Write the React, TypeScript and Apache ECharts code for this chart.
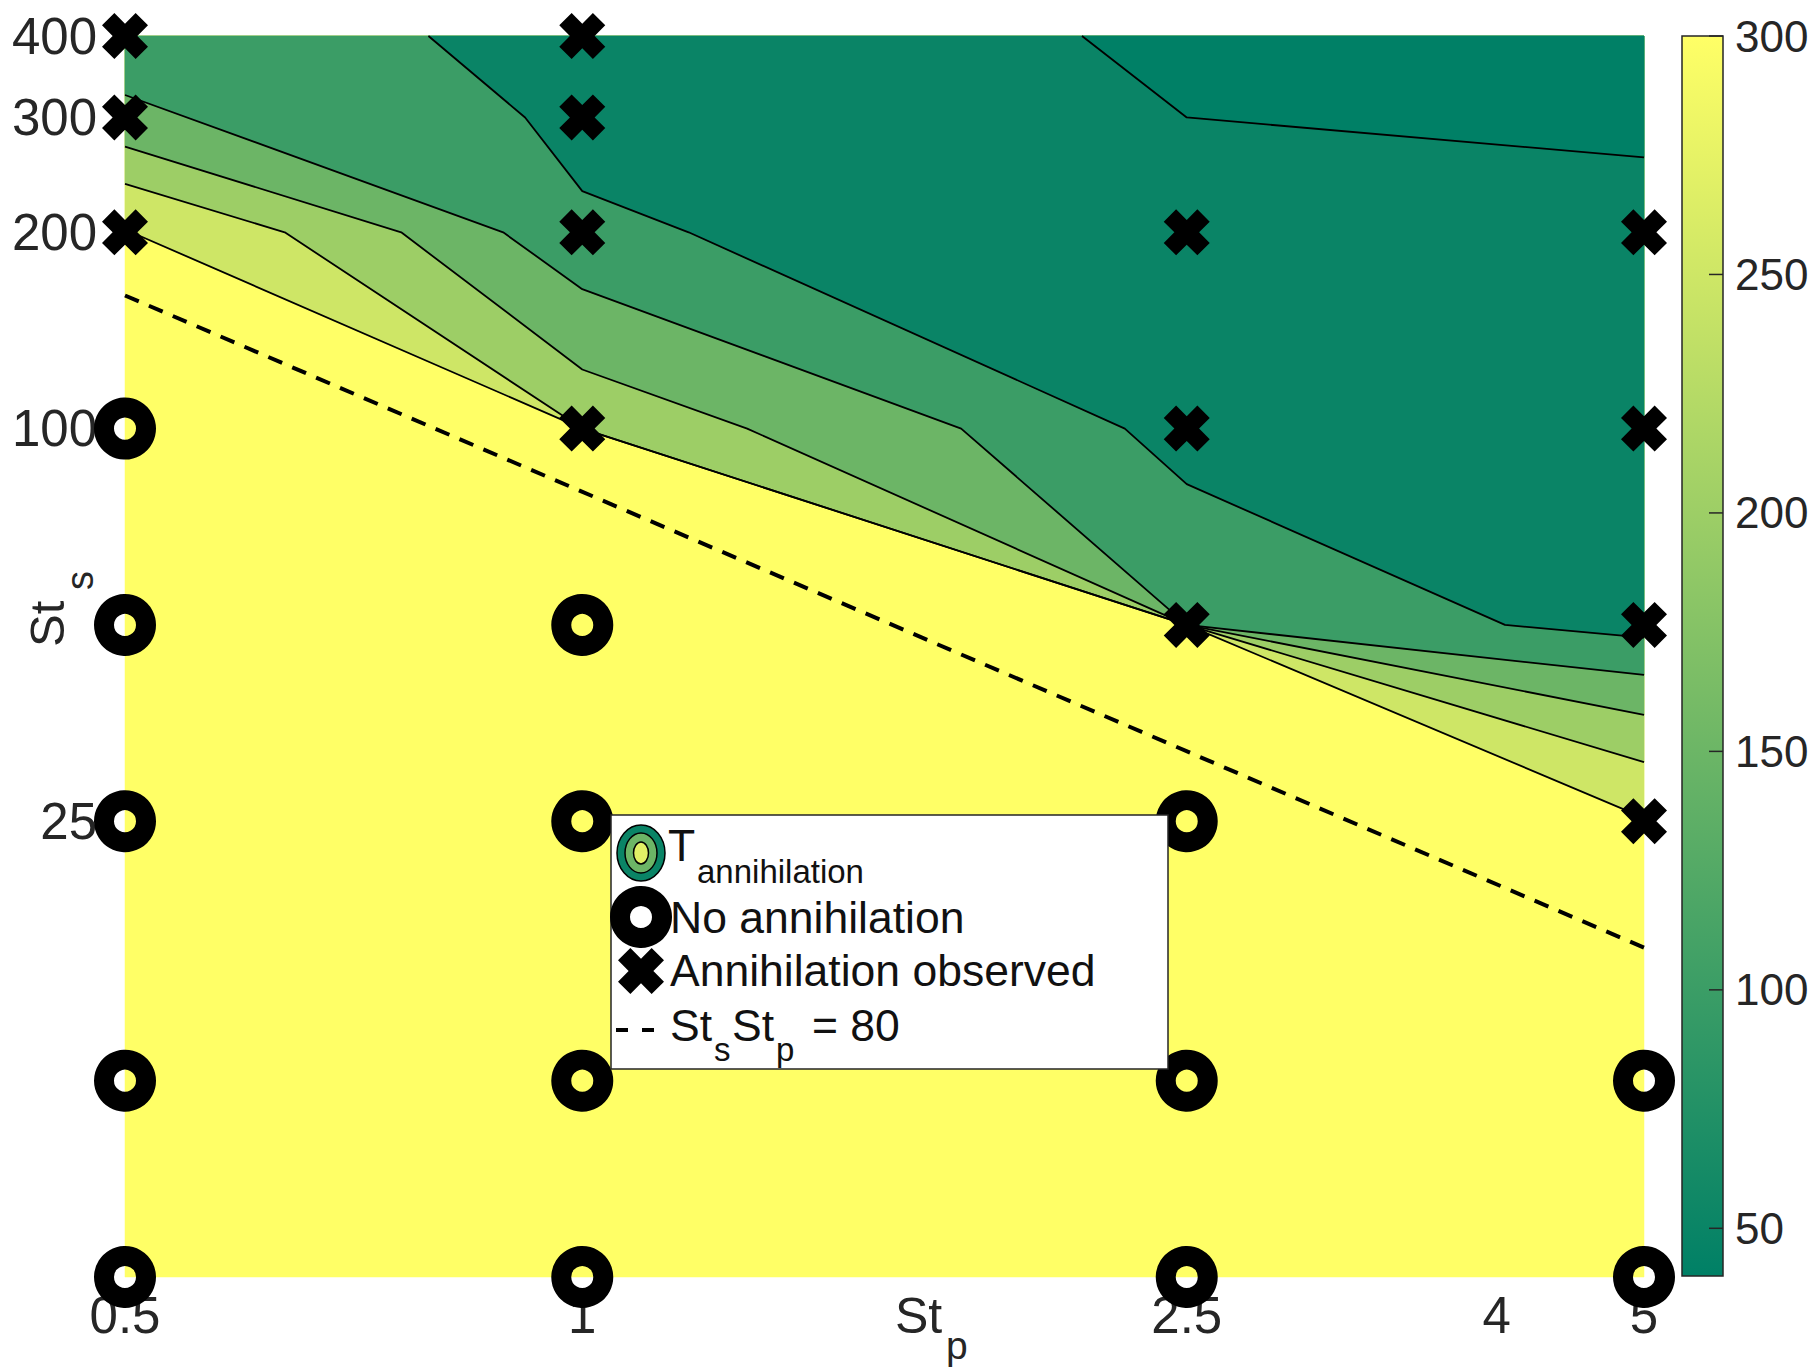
import React, { useEffect, useRef } from "react";
import * as echarts from "echarts";

const FONT = "'Liberation Sans', Arial, Helvetica, sans-serif";
const INK = "#262626";

// Axis ranges and tick positions
const ST_P_RANGE = [0.5, 5];
const ST_S_RANGE = [5, 400];
const ST_P_TICKS = [0.5, 1, 2.5, 4, 5];
const ST_S_TICKS = [25, 100, 200, 300, 400];

// Colour scale of T_annihilation
const T_RANGE = [40, 300];
const T_TICKS = [50, 100, 150, 200, 250, 300];

// Contour lines of T_annihilation, vertices as [St_p, St_s]
const contour50 = [[2.133, 400], [2.5, 300], [5, 260.6]];
const contour100 = [
  [0.792, 400], [0.917, 300], [1, 231.3], [1.175, 200],
  [2.276, 100], [2.5, 82.2], [4.05, 50], [5, 47.8],
];
const contour150 = [[0.5, 324.8], [0.887, 200], [1, 163.6], [1.776, 100], [2.5, 50], [5, 41.9]];
const contour200 = [[0.5, 270.6], [0.76, 200], [1, 123.2], [1.284, 100], [2.5, 50], [5, 36.4]];
const contour250 = [[0.5, 237.3], [0.637, 200], [1, 100], [2.5, 50], [5, 30.8]];
const contour300 = [[0.5, 202], [1, 100], [2.5, 50], [5, 25.3]];

// Simulation outcomes, as [St_p, St_s]
const noAnnihilation = [
  [0.5, 100], [0.5, 50], [0.5, 25], [0.5, 10], [0.5, 5],
  [1, 50], [1, 25], [1, 10], [1, 5],
  [2.5, 25], [2.5, 10], [2.5, 5],
  [5, 10], [5, 5],
];
const annihilationObserved = [
  [0.5, 400], [0.5, 300], [0.5, 200],
  [1, 400], [1, 300], [1, 200], [1, 100],
  [2.5, 200], [2.5, 100], [2.5, 50],
  [5, 200], [5, 100], [5, 50], [5, 25],
];

// Reference curve St_s * St_p = const
const PRODUCT = 80;
const productLineStp = [0.5, 5];

// "summer" colormap: green -> yellow
function summer(v: number): string {
  const t = Math.min(1, Math.max(0, (v - T_RANGE[0]) / (T_RANGE[1] - T_RANGE[0])));
  const r = Math.round(255 * t);
  const g = Math.round(255 * (0.5 + 0.5 * t));
  const b = Math.round(255 * 0.4);
  return `rgb(${r},${g},${b})`;
}

// Heavy "x" marker outline in a 100x100 box
const X_MARK = [
  [73.1, 0], [100, 26.9], [76.9, 50], [100, 73.1], [73.1, 100], [50, 76.9],
  [26.9, 100], [0, 73.1], [23.1, 50], [0, 26.9], [26.9, 0], [50, 23.1],
];
const X_PATH = "path://M" + X_MARK.map((p) => p.join(" ")).join("L") + "Z";
const X_SIZE = 46;

// Region lying above a contour line (lower T), closed along the top-right frame
function regionAbove(line: number[][]): number[][] {
  const pts = line.slice();
  pts.push([ST_P_RANGE[1], ST_S_RANGE[1]]);
  if (line[0][0] <= ST_P_RANGE[0]) pts.push([ST_P_RANGE[0], ST_S_RANGE[1]]);
  return pts;
}

const fillRegions = [
  {
    polygon: [
      [ST_P_RANGE[0], ST_S_RANGE[0]], [ST_P_RANGE[1], ST_S_RANGE[0]],
      [ST_P_RANGE[1], ST_S_RANGE[1]], [ST_P_RANGE[0], ST_S_RANGE[1]],
    ],
    color: summer(300),
  },
  { polygon: regionAbove(contour300), color: summer(250) },
  { polygon: regionAbove(contour250), color: summer(200) },
  { polygon: regionAbove(contour200), color: summer(150) },
  { polygon: regionAbove(contour150), color: summer(100) },
  { polygon: regionAbove(contour100), color: summer(50) },
  { polygon: regionAbove(contour50), color: summer(T_RANGE[0]) },
];

const contourLines = [contour50, contour100, contour150, contour200, contour250, contour300];

const fmt = (v: number) => String(Number(Number(v).toPrecision(6)));

function txt(x: number, y: number, text: string, size: number, extra: any = {}) {
  return {
    type: "text",
    x,
    y,
    z: 60,
    silent: true,
    style: {
      text,
      fontSize: size,
      fontFamily: FONT,
      fill: extra.fill || "#111",
      align: "left",
      verticalAlign: "middle",
      textAlign: "left",
      textVerticalAlign: "middle",
    },
  };
}

function buildLegend() {
  const cx = 641;
  const xPoly = X_MARK.map(([a, b]) => [cx - X_SIZE / 2 + (a * X_SIZE) / 100, 971 - X_SIZE / 2 + (b * X_SIZE) / 100]);
  const F = 44.5;
  const S = 33;
  return [
    {
      type: "rect",
      z: 50,
      silent: true,
      shape: { x: 611, y: 815, width: 557, height: 254 },
      style: { fill: "#fff", stroke: INK, lineWidth: 1.5 },
    },
    // contour icon
    { type: "ellipse", z: 55, shape: { cx, cy: 853, rx: 24, ry: 28 }, style: { fill: summer(50), stroke: "#000", lineWidth: 1.5 } },
    { type: "ellipse", z: 56, shape: { cx, cy: 853, rx: 16, ry: 20 }, style: { fill: summer(150), stroke: "#000", lineWidth: 1.5 } },
    { type: "ellipse", z: 57, shape: { cx, cy: 853, rx: 7.5, ry: 11 }, style: { fill: summer(270), stroke: "#000", lineWidth: 1.5 } },
    txt(668, 845, "T", F),
    txt(697, 871, "annihilation", S),
    // no annihilation icon
    { type: "circle", z: 55, shape: { cx, cy: 917, r: 21 }, style: { fill: "none", stroke: "#000", lineWidth: 20 } },
    txt(670, 917, "No annihilation", F),
    // annihilation icon
    { type: "polygon", z: 55, shape: { points: xPoly }, style: { fill: "#000" } },
    txt(670, 970, "Annihilation observed", F),
    // product line icon
    { type: "line", z: 55, shape: { x1: 616, y1: 1030, x2: 658, y2: 1030 }, style: { stroke: "#000", lineWidth: 4, lineDash: [12, 14] } },
    txt(670, 1025, "St", F),
    txt(714, 1049, "s", S),
    txt(732, 1025, "St", F),
    txt(776, 1049, "p", S),
    txt(812, 1025, "= 80", F),
  ];
}

function buildAxisNames() {
  return [
    txt(895, 1316, "St", 50, { fill: INK }),
    txt(946, 1345, "p", 39, { fill: INK }),
    {
      type: "group",
      x: 47,
      y: 647,
      rotation: Math.PI / 2,
      children: [txt(0, 0, "St", 49, { fill: INK }), txt(57, 33, "s", 38, { fill: INK })],
    },
  ];
}

function buildOption(): any {
  const contourSeries = contourLines.map((line) => ({
    type: "line",
    xAxisIndex: 0,
    yAxisIndex: 0,
    data: line,
    symbol: "none",
    showSymbol: false,
    silent: true,
    clip: false,
    z: 3,
    lineStyle: { color: "#000", width: 1.8 },
  }));

  return {
    animation: false,
    backgroundColor: "#fff",
    textStyle: { fontFamily: FONT },
    grid: [
      { left: 125, top: 36, width: 1519, height: 1241, outerBoundsMode: "none" },
      { left: 1682, top: 36, width: 41, height: 1240, outerBoundsMode: "none" },
    ],
    xAxis: [
      {
        type: "log",
        gridIndex: 0,
        min: ST_P_RANGE[0],
        max: ST_P_RANGE[1],
        axisLine: { show: false },
        axisTick: { show: false },
        splitLine: { show: false },
        axisLabel: {
          customValues: ST_P_TICKS,
          formatter: fmt,
          fontSize: 51,
          color: INK,
          margin: 13,
          fontFamily: FONT,
        },
      },
      { type: "value", gridIndex: 1, min: 0, max: 1, show: false },
    ],
    yAxis: [
      {
        type: "log",
        gridIndex: 0,
        min: ST_S_RANGE[0],
        max: ST_S_RANGE[1],
        axisLine: { show: false },
        axisTick: { show: false },
        splitLine: { show: false },
        axisLabel: {
          customValues: ST_S_TICKS,
          formatter: fmt,
          fontSize: 51,
          color: INK,
          margin: 28,
          fontFamily: FONT,
        },
      },
      {
        type: "value",
        gridIndex: 1,
        min: T_RANGE[0],
        max: T_RANGE[1],
        position: "right",
        axisLine: { show: false },
        splitLine: { show: false },
        axisTick: { show: false },
        axisLabel: {
          customValues: T_TICKS,
          fontSize: 44,
          color: INK,
          margin: 12,
          fontFamily: FONT,
        },
      },
    ],
    series: [
      {
        type: "custom",
        xAxisIndex: 0,
        yAxisIndex: 0,
        silent: true,
        z: 1,
        data: fillRegions.map(() => [1, 100]),
        renderItem: (params: any, api: any) => {
          const region = fillRegions[params.dataIndex];
          return {
            type: "polygon",
            shape: { points: region.polygon.map((p) => api.coord(p)) },
            style: { fill: region.color, stroke: region.color, lineWidth: 0.5 },
          };
        },
      },
      ...contourSeries,
      {
        type: "line",
        xAxisIndex: 0,
        yAxisIndex: 0,
        data: productLineStp.map((x) => [x, PRODUCT / x]),
        symbol: "none",
        showSymbol: false,
        silent: true,
        clip: false,
        z: 4,
        lineStyle: { color: "#000", width: 4, type: [15, 11] },
      },
      {
        type: "scatter",
        xAxisIndex: 0,
        yAxisIndex: 0,
        data: noAnnihilation,
        symbol: "circle",
        symbolSize: 42,
        clip: false,
        silent: true,
        z: 5,
        itemStyle: { color: "rgba(0,0,0,0)", borderColor: "#000", borderWidth: 20, opacity: 1 },
      },
      {
        type: "scatter",
        xAxisIndex: 0,
        yAxisIndex: 0,
        data: annihilationObserved,
        symbol: X_PATH,
        symbolSize: X_SIZE,
        clip: false,
        silent: true,
        z: 5,
        itemStyle: { color: "#000", opacity: 1 },
      },
      // colour bar with inner ticks on its right edge
      {
        type: "custom",
        xAxisIndex: 1,
        yAxisIndex: 1,
        silent: true,
        data: [[0, T_RANGE[0], T_RANGE[1]]],
        renderItem: (params: any, api: any) => {
          const bottom = api.coord([0, api.value(1)]);
          const top = api.coord([1, api.value(2)]);
          const ticks = T_TICKS.map((t) => {
            const p = api.coord([1, t]);
            return {
              type: "line",
              shape: { x1: p[0] - 14, y1: p[1], x2: p[0], y2: p[1] },
              style: { stroke: INK, lineWidth: 1.5 },
            };
          });
          return {
            type: "group",
            children: [
              {
                type: "rect",
                shape: { x: bottom[0], y: top[1], width: top[0] - bottom[0], height: bottom[1] - top[1] },
                style: {
                  fill: new echarts.graphic.LinearGradient(0, 0, 0, 1, [
                    { offset: 0, color: summer(T_RANGE[1]) },
                    { offset: 1, color: summer(T_RANGE[0]) },
                  ]),
                  stroke: INK,
                  lineWidth: 1.5,
                },
              },
              ...ticks,
            ],
          };
        },
      },
    ],
    graphic: [...buildAxisNames(), ...buildLegend()],
  };
}

export default function App() {
  const ref = useRef<HTMLDivElement>(null);
  useEffect(() => {
    document.body.style.margin = "0";
    const chart = echarts.init(ref.current as HTMLDivElement, null, { renderer: "svg" });
    chart.setOption(buildOption());
    return () => chart.dispose();
  }, []);
  return <div ref={ref} style={{ width: 1814, height: 1372 }} />;
}
